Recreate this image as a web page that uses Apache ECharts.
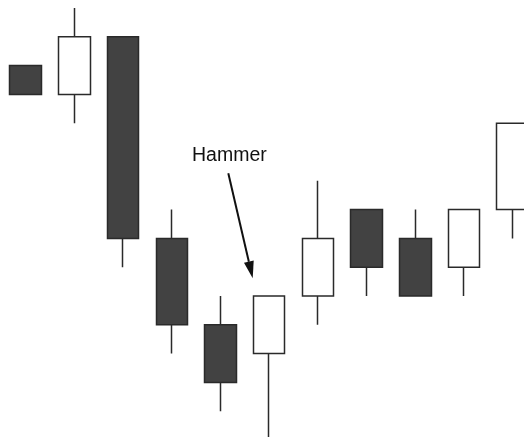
<!DOCTYPE html>
<html>
<head>
<meta charset="utf-8">
<script src="https://cdn.jsdelivr.net/npm/echarts@6/dist/echarts.min.js"></script>
<style>
  html, body { margin: 0; padding: 0; background: #fff; }
  #chart { width: 524px; height: 437px; }
</style>
</head>
<body>
<div id="chart"></div>
<script>
// candle data: [open, close, low, high]
const days = ['1', '2', '3', '4', '5', '6', '7', '8', '9', '10', '11']
const opens = [13, 12, 14, 7, 4, 3, 5, 8, 7, 6, 8]
const closes = [12, 14, 7, 4, 2, 5, 7, 6, 5, 8, 11]
const lows = [12, 11, 6, 3, 1, 0, 4, 5, 5, 5, 7]
const highs = [13, 15, 14, 8, 5, 5, 9, 8, 8, 8, 11]

const chart = echarts.init(document.getElementById('chart'))

const candles = days.map((d, i) => [opens[i], closes[i], lows[i], highs[i]])

// arrow pointing at the hammer
const arrowFrom = [228.3, 173.3]
const arrowTip = [252.7, 278.3]
const dx = arrowTip[0] - arrowFrom[0]
const dy = arrowTip[1] - arrowFrom[1]
const len = Math.sqrt(dx * dx + dy * dy)
const ux = dx / len, uy = dy / len
const headLen = 17, headHalf = 5
const base = [arrowTip[0] - ux * headLen, arrowTip[1] - uy * headLen]

chart.setOption({
  backgroundColor: '#fff',
  animation: false,
  grid: { left: 1.35, top: 8, width: 535.7, height: 432, outerBoundsMode: 'none', containLabel: false },
  xAxis: {
    type: 'category',
    data: days,
    boundaryGap: true,
    show: false
  },
  yAxis: {
    type: 'value',
    min: 0,
    max: 15,
    show: false,
    splitLine: { show: false }
  },
  series: [{
    type: 'candlestick',
    data: candles,
    barWidth: 32,
    clip: false,
    itemStyle: {
      color: '#ffffff',
      color0: '#424242',
      borderColor: '#2a2a2a',
      borderColor0: '#2a2a2a',
      borderWidth: 1.5
    }
  }],
  graphic: [
    {
      type: 'text',
      left: 192,
      top: 146,
      style: {
        text: 'Hammer',
        font: '19.5px "Liberation Sans", Arial, sans-serif',
        fill: '#111'
      }
    },
    {
      type: 'line',
      shape: { x1: arrowFrom[0], y1: arrowFrom[1], x2: base[0], y2: base[1] },
      style: { stroke: '#111', lineWidth: 2 }
    },
    {
      type: 'polygon',
      shape: {
        points: [
          arrowTip,
          [base[0] + uy * headHalf, base[1] - ux * headHalf],
          [base[0] - uy * headHalf, base[1] + ux * headHalf]
        ]
      },
      style: { fill: '#111' }
    }
  ]
})
</script>
</body>
</html>
